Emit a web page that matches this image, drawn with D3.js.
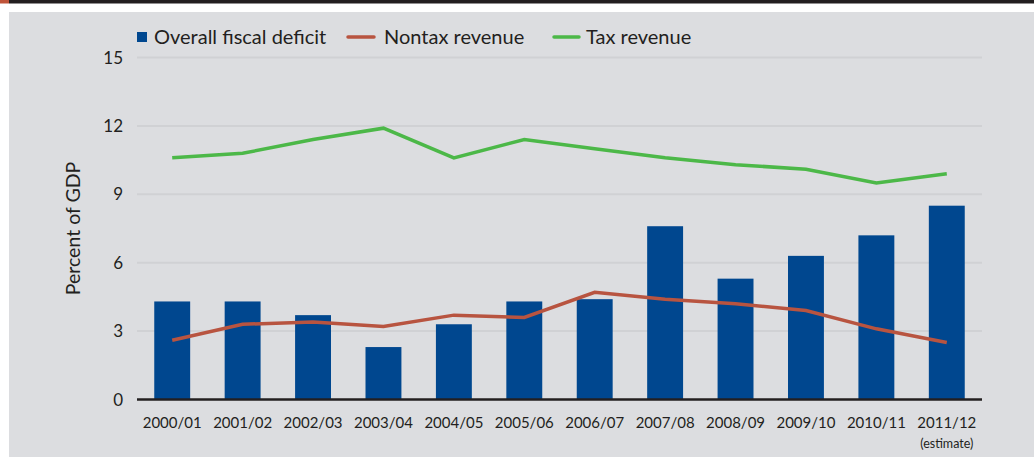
<!DOCTYPE html>
<html>
<head>
<meta charset="utf-8">
<script src="https://cdn.jsdelivr.net/npm/d3@7"></script>
<style>
  body { margin: 0; background: #fff; }
  svg { display: block; font-family: Lato, "Open Sans", sans-serif; }
</style>
</head>
<body>
<div id="chart"></div>
<script>
var years = ["2000/01", "2001/02", "2002/03", "2003/04", "2004/05", "2005/06",
  "2006/07", "2007/08", "2008/09", "2009/10", "2010/11", "2011/12"];
var deficit = [4.3, 4.3, 3.7, 2.3, 3.3, 4.3, 4.4, 7.6, 5.3, 6.3, 7.2, 8.5];
var nontax = [2.6, 3.3, 3.4, 3.2, 3.7, 3.6, 4.7, 4.4, 4.2, 3.9, 3.1, 2.5];
var tax = [10.6, 10.8, 11.4, 11.9, 10.6, 11.4, 11.0, 10.6, 10.3, 10.1, 9.5, 9.9];
var yTicks = [0, 3, 6, 9, 12, 15];

var width = 1034, height = 457;
var margin = { left: 137, right: 52, top: 57.5, bottom: 57.5 };

var svg = d3.select("#chart").append("svg")
  .attr("width", width)
  .attr("height", height);

// title strip and panel
svg.append("rect").attr("x", 0).attr("y", 0).attr("width", 9).attr("height", 3.5).style("fill", "#c0543a");
svg.append("rect").attr("x", 9).attr("y", 0).attr("width", width - 9).attr("height", 3.5).style("fill", "#231f20");
svg.append("rect").attr("x", 9).attr("y", 12).attr("width", width - 9).attr("height", height - 12).style("fill", "#dcdde0");

var x = d3.scaleBand()
  .domain(years)
  .range([margin.left, width - margin.right])
  .paddingInner(0.49)
  .paddingOuter(0.245);

var y = d3.scaleLinear()
  .domain([0, 15])
  .range([height - margin.bottom, margin.top]);

// gridlines
svg.append("g")
  .selectAll("line")
  .data(yTicks.filter((d) => d > 0))
  .enter()
  .append("line")
  .attr("x1", margin.left)
  .attr("x2", width - margin.right)
  .attr("y1", (d) => y(d))
  .attr("y2", (d) => y(d))
  .style("stroke", "#d0d1d4")
  .style("stroke-width", 2);

// y tick labels
svg.append("g")
  .selectAll("text")
  .data(yTicks)
  .enter()
  .append("text")
  .attr("x", 123)
  .attr("y", (d) => y(d) + 6)
  .attr("text-anchor", "end")
  .style("font-size", "17px")
  .style("fill", "#231f20")
  .text((d) => d);

svg.append("text")
  .attr("transform", "translate(80," + y(7.5) + ") rotate(-90)")
  .attr("text-anchor", "middle")
  .style("font-size", "19.5px")
  .style("fill", "#231f20")
  .text("Percent of GDP");

// bars
svg.append("g")
  .selectAll("rect")
  .data(deficit)
  .enter()
  .append("rect")
  .attr("x", (d, i) => x(years[i]))
  .attr("width", x.bandwidth())
  .attr("y", (d) => y(d))
  .attr("height", (d) => y(0) - y(d))
  .style("fill", "#00478f");

// zero axis
svg.append("line")
  .attr("x1", margin.left)
  .attr("x2", width - margin.right)
  .attr("y1", y(0))
  .attr("y2", y(0))
  .style("stroke", "#231f20")
  .style("stroke-width", 2.5);

// x labels
svg.append("g")
  .selectAll("text")
  .data(years)
  .enter()
  .append("text")
  .attr("x", (d) => x(d) + x.bandwidth() / 2)
  .attr("y", 428)
  .attr("text-anchor", "middle")
  .style("font-size", "15px")
  .style("fill", "#231f20")
  .text((d) => d);

svg.append("text")
  .attr("x", x("2011/12") + x.bandwidth() / 2)
  .attr("y", 448)
  .attr("text-anchor", "middle")
  .style("font-size", "12.5px")
  .style("fill", "#231f20")
  .text("(estimate)");

// lines
var line = d3.line()
  .x((d, i) => x(years[i]) + x.bandwidth() / 2)
  .y((d) => y(d));

svg.append("path")
  .datum(nontax)
  .attr("d", line)
  .style("fill", "none")
  .style("stroke", "#b85440")
  .style("stroke-width", 3.5);

svg.append("path")
  .datum(tax)
  .attr("d", line)
  .style("fill", "none")
  .style("stroke", "#4cb848")
  .style("stroke-width", 3.5);

// legend
svg.append("rect").attr("x", 137).attr("y", 32).attr("width", 10).attr("height", 10).style("fill", "#00478f");
svg.append("text").attr("x", 154).attr("y", 44).style("font-size", "20px").style("fill", "#231f20").text("Overall fiscal deficit");
svg.append("line").attr("x1", 348).attr("x2", 374).attr("y1", 37).attr("y2", 37)
  .style("stroke", "#b85440").style("stroke-width", 3.5).style("stroke-linecap", "round");
svg.append("text").attr("x", 384).attr("y", 44).style("font-size", "20px").style("fill", "#231f20").text("Nontax revenue");
svg.append("line").attr("x1", 554).attr("x2", 579).attr("y1", 37).attr("y2", 37)
  .style("stroke", "#4cb848").style("stroke-width", 3.5).style("stroke-linecap", "round");
svg.append("text").attr("x", 586).attr("y", 44).style("font-size", "20px").style("fill", "#231f20").text("Tax revenue");
</script>
</body>
</html>
